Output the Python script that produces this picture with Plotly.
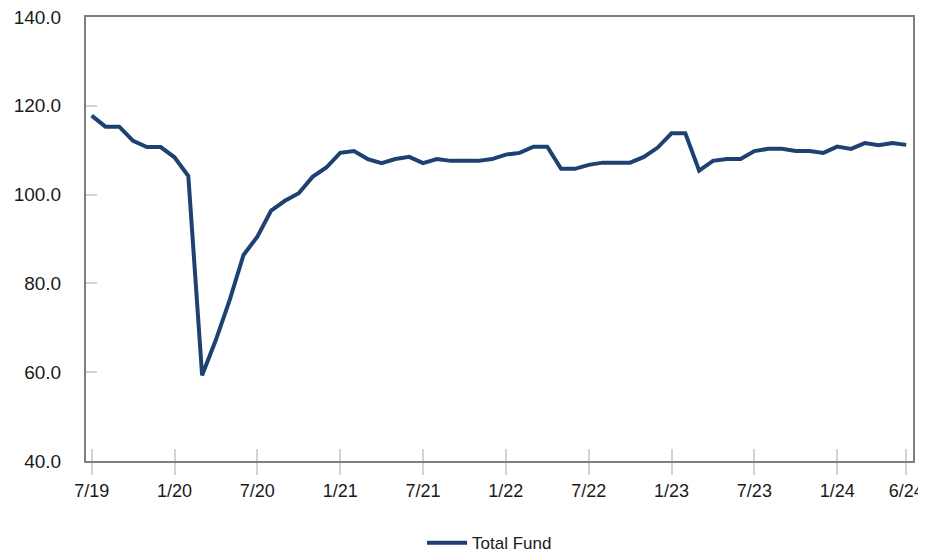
import plotly.graph_objects as go

months = ["7/19","8/19","9/19","10/19","11/19","12/19","1/20","2/20","3/20","4/20","5/20","6/20",
          "7/20","8/20","9/20","10/20","11/20","12/20","1/21","2/21","3/21","4/21","5/21","6/21",
          "7/21","8/21","9/21","10/21","11/21","12/21","1/22","2/22","3/22","4/22","5/22","6/22",
          "7/22","8/22","9/22","10/22","11/22","12/22","1/23","2/23","3/23","4/23","5/23","6/23",
          "7/23","8/23","9/23","10/23","11/23","12/23","1/24","2/24","3/24","4/24","5/24","6/24"]
total_fund = [117.8,115.3,115.3,112.1,110.7,110.7,108.4,104.2,59.3,67.3,76.3,86.4,
              90.5,96.4,98.6,100.3,104.0,106.1,109.4,109.8,108.0,107.1,108.0,108.5,
              107.1,108.0,107.6,107.6,107.6,108.0,109.0,109.4,110.8,110.8,105.8,105.8,
              106.7,107.2,107.2,107.2,108.5,110.6,113.8,113.8,105.4,107.6,108.0,108.0,
              109.8,110.3,110.3,109.8,109.8,109.4,110.8,110.3,111.6,111.1,111.6,111.2]
tick_labels = ["7/19","1/20","7/20","1/21","7/21","1/22","7/22","1/23","7/23","1/24","6/24"]
y_ticks = [40, 60, 80, 100, 120, 140]

x_idx = list(range(len(months)))
tick_pos = [months.index(t) for t in tick_labels]

FONT = "Liberation Sans, Arial, sans-serif"
AX = "#7f7f7f"
TK = "#d3d3d3"

fig = go.Figure()
fig.add_trace(go.Scatter(x=x_idx, y=total_fund, mode="lines", name="Total Fund",
                         line=dict(color="#1d4272", width=4)))
fig.add_trace(go.Scatter(x=[x_idx[0]], y=[total_fund[0]], xaxis="x2", mode="lines",
                         showlegend=False, hoverinfo="skip", line=dict(width=0)))

# page body adds an 8px offset; figure sized to fit the 926x555 window
fig.update_layout(
    width=918, height=547,
    margin=dict(l=78, r=13, t=9, b=94, autoexpand=False),
    paper_bgcolor="white", plot_bgcolor="white",
    font=dict(family=FONT, size=19, color="#1a1a1a"),
    showlegend=True,
    legend=dict(orientation="h", x=0.488, xanchor="center", y=-0.185, yanchor="middle",
                font=dict(size=17), itemwidth=40),
    xaxis=dict(range=[-0.41, 59.49], tickmode="array", tickvals=tick_pos, ticktext=tick_labels,
               tickfont=dict(size=18),
               showgrid=False, zeroline=False, showline=True, linecolor=AX, linewidth=2,
               mirror=True, ticks="outside", ticklen=12, tickcolor=TK, tickwidth=2,
               ticklabelstandoff=0, ticklabeloverflow="allow", automargin=False),
    xaxis2=dict(overlaying="x", matches="x", side="bottom", anchor="y", tickmode="array",
                tickvals=tick_pos, showticklabels=False, showgrid=False, zeroline=False,
                showline=False, ticks="inside", ticklen=12, tickcolor=TK, tickwidth=2),
    yaxis=dict(range=[40, 140], tickmode="array", tickvals=y_ticks,
               ticktext=[f"{v:.1f}" for v in y_ticks],
               showgrid=False, zeroline=False, showline=True, linecolor=AX, linewidth=2,
               mirror=True, ticks="inside", ticklen=11, tickcolor=TK, tickwidth=2,
               ticklabelstandoff=19, ticklabeloverflow="allow", automargin=False),
)

fig.write_html("out.html")
